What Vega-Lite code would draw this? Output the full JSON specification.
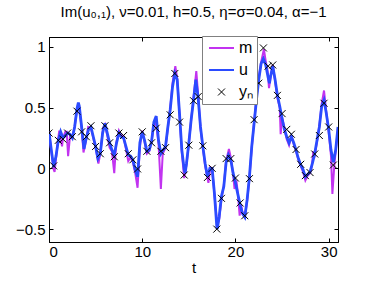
{
  "$schema": "https://vega.github.io/schema/vega-lite/v6.json",
  "width": 289,
  "height": 205,
  "autosize": {"type": "none"},
  "padding": {"left": 49, "top": 37, "right": 36, "bottom": 39},
  "background": "white",
  "title": {"text": "Im(u₀,₁), ν=0.01, h=0.5, η=σ=0.04, α=−1", "fontSize": 15, "font": "Liberation Sans", "fontWeight": "normal", "color": "black", "baseline": "alphabetic", "offset": 4},
  "config": {
    "view": {"stroke": "black", "strokeWidth": 1},
    "axis": {"grid": false, "domainColor": "black", "tickColor": "black", "labelColor": "black", "labelFont": "Liberation Sans", "titleFont": "Liberation Sans", "labelFontSize": 15, "titleFontSize": 15, "titleFontWeight": "normal", "titleColor": "black", "tickSize": -4, "domainWidth": 1}
  },
  "datasets": {
    "curves": [
      {"t":0,"v":0.30,"s":"u"},{"t":0.25,"v":0.15,"s":"u"},{"t":0.5,"v":0.01,"s":"u"},{"t":0.75,"v":0.10,"s":"u"},{"t":1.0,"v":0.23,"s":"u"},{"t":1.25,"v":0.30,"s":"u"},{"t":1.5,"v":0.25,"s":"u"},{"t":1.75,"v":0.27,"s":"u"},{"t":2.0,"v":0.29,"s":"u"},{"t":2.25,"v":0.28,"s":"u"},{"t":2.5,"v":0.25,"s":"u"},{"t":2.75,"v":0.34,"s":"u"},{"t":3.0,"v":0.49,"s":"u"},{"t":3.15,"v":0.54,"s":"u"},{"t":3.25,"v":0.51,"s":"u"},{"t":3.5,"v":0.34,"s":"u"},{"t":3.75,"v":0.16,"s":"u"},{"t":4.0,"v":0.25,"s":"u"},{"t":4.25,"v":0.32,"s":"u"},{"t":4.5,"v":0.34,"s":"u"},{"t":4.75,"v":0.26,"s":"u"},{"t":5.0,"v":0.18,"s":"u"},{"t":5.25,"v":0.08,"s":"u"},{"t":5.5,"v":0.12,"s":"u"},{"t":5.75,"v":0.29,"s":"u"},{"t":6.0,"v":0.37,"s":"u"},{"t":6.25,"v":0.29,"s":"u"},{"t":6.5,"v":0.21,"s":"u"},{"t":6.75,"v":0.15,"s":"u"},{"t":7.0,"v":0.11,"s":"u"},{"t":7.25,"v":0.21,"s":"u"},{"t":7.5,"v":0.29,"s":"u"},{"t":7.75,"v":0.26,"s":"u"},{"t":8.0,"v":0.25,"s":"u"},{"t":8.25,"v":0.18,"s":"u"},{"t":8.5,"v":0.11,"s":"u"},{"t":8.75,"v":0.10,"s":"u"},{"t":9.0,"v":0.07,"s":"u"},{"t":9.25,"v":-0.01,"s":"u"},{"t":9.5,"v":-0.07,"s":"u"},{"t":9.75,"v":0.21,"s":"u"},{"t":10.0,"v":0.30,"s":"u"},{"t":10.25,"v":0.23,"s":"u"},{"t":10.5,"v":0.14,"s":"u"},{"t":10.75,"v":0.15,"s":"u"},{"t":11.0,"v":0.22,"s":"u"},{"t":11.25,"v":0.38,"s":"u"},{"t":11.5,"v":0.43,"s":"u"},{"t":11.75,"v":0.23,"s":"u"},{"t":12.0,"v":0.12,"s":"u"},{"t":12.25,"v":0.15,"s":"u"},{"t":12.5,"v":0.18,"s":"u"},{"t":12.75,"v":0.34,"s":"u"},{"t":13.0,"v":0.48,"s":"u"},{"t":13.25,"v":0.67,"s":"u"},{"t":13.5,"v":0.78,"s":"u"},{"t":13.75,"v":0.73,"s":"u"},{"t":14.0,"v":0.45,"s":"u"},{"t":14.25,"v":0.15,"s":"u"},{"t":14.5,"v":-0.01,"s":"u"},{"t":14.6,"v":-0.04,"s":"u"},{"t":14.75,"v":0.04,"s":"u"},{"t":15.0,"v":0.21,"s":"u"},{"t":15.25,"v":0.40,"s":"u"},{"t":15.5,"v":0.56,"s":"u"},{"t":15.75,"v":0.73,"s":"u"},{"t":16.0,"v":0.58,"s":"u"},{"t":16.25,"v":0.34,"s":"u"},{"t":16.5,"v":0.18,"s":"u"},{"t":16.75,"v":0.04,"s":"u"},{"t":17.0,"v":-0.07,"s":"u"},{"t":17.25,"v":0.0,"s":"u"},{"t":17.5,"v":0.0,"s":"u"},{"t":17.75,"v":-0.21,"s":"u"},{"t":18.0,"v":-0.48,"s":"u"},{"t":18.05,"v":-0.50,"s":"u"},{"t":18.25,"v":-0.40,"s":"u"},{"t":18.5,"v":-0.23,"s":"u"},{"t":18.75,"v":-0.15,"s":"u"},{"t":19.0,"v":0.05,"s":"u"},{"t":19.25,"v":0.11,"s":"u"},{"t":19.5,"v":0.07,"s":"u"},{"t":19.75,"v":-0.04,"s":"u"},{"t":20.0,"v":-0.12,"s":"u"},{"t":20.25,"v":-0.21,"s":"u"},{"t":20.5,"v":-0.30,"s":"u"},{"t":20.75,"v":-0.37,"s":"u"},{"t":21.0,"v":-0.40,"s":"u"},{"t":21.25,"v":-0.26,"s":"u"},{"t":21.5,"v":-0.07,"s":"u"},{"t":21.75,"v":0.18,"s":"u"},{"t":22.0,"v":0.37,"s":"u"},{"t":22.25,"v":0.56,"s":"u"},{"t":22.5,"v":0.73,"s":"u"},{"t":22.75,"v":0.86,"s":"u"},{"t":23.0,"v":0.90,"s":"u"},{"t":23.25,"v":0.85,"s":"u"},{"t":23.5,"v":0.75,"s":"u"},{"t":23.65,"v":0.70,"s":"u"},{"t":23.75,"v":0.75,"s":"u"},{"t":24.0,"v":0.84,"s":"u"},{"t":24.25,"v":0.73,"s":"u"},{"t":24.5,"v":0.60,"s":"u"},{"t":24.75,"v":0.51,"s":"u"},{"t":25.0,"v":0.41,"s":"u"},{"t":25.25,"v":0.32,"s":"u"},{"t":25.5,"v":0.26,"s":"u"},{"t":25.75,"v":0.21,"s":"u"},{"t":26.0,"v":0.26,"s":"u"},{"t":26.25,"v":0.21,"s":"u"},{"t":26.5,"v":0.15,"s":"u"},{"t":26.75,"v":0.08,"s":"u"},{"t":27.0,"v":0.03,"s":"u"},{"t":27.25,"v":-0.01,"s":"u"},{"t":27.5,"v":-0.07,"s":"u"},{"t":27.75,"v":-0.05,"s":"u"},{"t":28.0,"v":-0.03,"s":"u"},{"t":28.25,"v":0.04,"s":"u"},{"t":28.5,"v":0.12,"s":"u"},{"t":28.75,"v":0.23,"s":"u"},{"t":29.0,"v":0.34,"s":"u"},{"t":29.25,"v":0.51,"s":"u"},{"t":29.5,"v":0.56,"s":"u"},{"t":29.75,"v":0.45,"s":"u"},{"t":30.0,"v":0.32,"s":"u"},{"t":30.25,"v":0.15,"s":"u"},{"t":30.5,"v":0.05,"s":"u"},{"t":30.75,"v":0.15,"s":"u"},{"t":31.0,"v":0.34,"s":"u"},
      {"t":0,"v":0.30,"s":"m"},{"t":0.25,"v":0.14,"s":"m"},{"t":0.5,"v":-0.01,"s":"m"},{"t":0.6,"v":-0.03,"s":"m"},{"t":0.75,"v":0.08,"s":"m"},{"t":1.0,"v":0.25,"s":"m"},{"t":1.1,"v":0.31,"s":"m"},{"t":1.25,"v":0.24,"s":"m"},{"t":1.4,"v":0.18,"s":"m"},{"t":1.5,"v":0.25,"s":"m"},{"t":1.75,"v":0.30,"s":"m"},{"t":1.9,"v":0.30,"s":"m"},{"t":2.05,"v":0.10,"s":"m"},{"t":2.25,"v":0.26,"s":"m"},{"t":2.5,"v":0.25,"s":"m"},{"t":2.75,"v":0.34,"s":"m"},{"t":3.0,"v":0.48,"s":"m"},{"t":3.15,"v":0.53,"s":"m"},{"t":3.25,"v":0.50,"s":"m"},{"t":3.5,"v":0.33,"s":"m"},{"t":3.7,"v":0.13,"s":"m"},{"t":4.0,"v":0.24,"s":"m"},{"t":4.2,"v":0.34,"s":"m"},{"t":4.5,"v":0.33,"s":"m"},{"t":4.75,"v":0.25,"s":"m"},{"t":5.0,"v":0.17,"s":"m"},{"t":5.3,"v":0.04,"s":"m"},{"t":5.5,"v":0.12,"s":"m"},{"t":5.8,"v":0.33,"s":"m"},{"t":6.0,"v":0.36,"s":"m"},{"t":6.25,"v":0.27,"s":"m"},{"t":6.5,"v":0.17,"s":"m"},{"t":6.75,"v":0.14,"s":"m"},{"t":7.0,"v":-0.04,"s":"m"},{"t":7.2,"v":0.20,"s":"m"},{"t":7.5,"v":0.31,"s":"m"},{"t":7.75,"v":0.27,"s":"m"},{"t":8.0,"v":0.26,"s":"m"},{"t":8.25,"v":0.16,"s":"m"},{"t":8.5,"v":0.06,"s":"m"},{"t":8.75,"v":0.09,"s":"m"},{"t":9.0,"v":0.05,"s":"m"},{"t":9.25,"v":-0.04,"s":"m"},{"t":9.5,"v":-0.16,"s":"m"},{"t":9.75,"v":0.18,"s":"m"},{"t":10.0,"v":0.31,"s":"m"},{"t":10.25,"v":0.22,"s":"m"},{"t":10.5,"v":0.12,"s":"m"},{"t":10.75,"v":0.14,"s":"m"},{"t":11.0,"v":0.22,"s":"m"},{"t":11.25,"v":0.36,"s":"m"},{"t":11.4,"v":0.40,"s":"m"},{"t":11.6,"v":0.30,"s":"m"},{"t":11.75,"v":0.20,"s":"m"},{"t":12.0,"v":-0.17,"s":"m"},{"t":12.2,"v":0.12,"s":"m"},{"t":12.5,"v":0.17,"s":"m"},{"t":12.75,"v":0.33,"s":"m"},{"t":13.0,"v":0.49,"s":"m"},{"t":13.25,"v":0.70,"s":"m"},{"t":13.55,"v":0.84,"s":"m"},{"t":13.75,"v":0.74,"s":"m"},{"t":14.0,"v":0.44,"s":"m"},{"t":14.25,"v":0.13,"s":"m"},{"t":14.5,"v":-0.08,"s":"m"},{"t":14.75,"v":0.03,"s":"m"},{"t":15.0,"v":0.20,"s":"m"},{"t":15.25,"v":0.40,"s":"m"},{"t":15.5,"v":0.58,"s":"m"},{"t":15.8,"v":0.80,"s":"m"},{"t":16.0,"v":0.60,"s":"m"},{"t":16.25,"v":0.33,"s":"m"},{"t":16.5,"v":0.17,"s":"m"},{"t":16.75,"v":0.02,"s":"m"},{"t":17.1,"v":-0.12,"s":"m"},{"t":17.3,"v":0.01,"s":"m"},{"t":17.5,"v":0.0,"s":"m"},{"t":17.75,"v":-0.22,"s":"m"},{"t":18.05,"v":-0.47,"s":"m"},{"t":18.25,"v":-0.42,"s":"m"},{"t":18.5,"v":-0.25,"s":"m"},{"t":18.75,"v":-0.14,"s":"m"},{"t":19.0,"v":0.06,"s":"m"},{"t":19.3,"v":0.16,"s":"m"},{"t":19.5,"v":0.09,"s":"m"},{"t":19.75,"v":-0.05,"s":"m"},{"t":19.9,"v":-0.17,"s":"m"},{"t":20.1,"v":-0.10,"s":"m"},{"t":20.25,"v":-0.20,"s":"m"},{"t":20.45,"v":-0.39,"s":"m"},{"t":20.6,"v":-0.30,"s":"m"},{"t":20.75,"v":-0.36,"s":"m"},{"t":21.0,"v":-0.40,"s":"m"},{"t":21.25,"v":-0.27,"s":"m"},{"t":21.5,"v":-0.08,"s":"m"},{"t":21.75,"v":0.17,"s":"m"},{"t":22.0,"v":0.38,"s":"m"},{"t":22.25,"v":0.57,"s":"m"},{"t":22.5,"v":0.74,"s":"m"},{"t":22.75,"v":0.87,"s":"m"},{"t":23.05,"v":0.98,"s":"m"},{"t":23.25,"v":0.88,"s":"m"},{"t":23.45,"v":0.80,"s":"m"},{"t":23.6,"v":0.66,"s":"m"},{"t":23.75,"v":0.74,"s":"m"},{"t":24.0,"v":0.85,"s":"m"},{"t":24.25,"v":0.72,"s":"m"},{"t":24.5,"v":0.58,"s":"m"},{"t":24.75,"v":0.50,"s":"m"},{"t":24.85,"v":0.28,"s":"m"},{"t":25.0,"v":0.42,"s":"m"},{"t":25.25,"v":0.33,"s":"m"},{"t":25.5,"v":0.24,"s":"m"},{"t":25.75,"v":0.19,"s":"m"},{"t":26.0,"v":0.27,"s":"m"},{"t":26.25,"v":0.20,"s":"m"},{"t":26.5,"v":0.14,"s":"m"},{"t":26.75,"v":0.07,"s":"m"},{"t":27.0,"v":0.02,"s":"m"},{"t":27.25,"v":-0.03,"s":"m"},{"t":27.5,"v":-0.10,"s":"m"},{"t":27.75,"v":-0.06,"s":"m"},{"t":28.0,"v":-0.04,"s":"m"},{"t":28.2,"v":0.02,"s":"m"},{"t":28.35,"v":0.14,"s":"m"},{"t":28.5,"v":0.11,"s":"m"},{"t":28.75,"v":0.22,"s":"m"},{"t":29.0,"v":0.35,"s":"m"},{"t":29.25,"v":0.53,"s":"m"},{"t":29.5,"v":0.64,"s":"m"},{"t":29.75,"v":0.46,"s":"m"},{"t":30.0,"v":0.30,"s":"m"},{"t":30.25,"v":0.10,"s":"m"},{"t":30.4,"v":-0.21,"s":"m"},{"t":30.6,"v":0.02,"s":"m"},{"t":30.75,"v":0.14,"s":"m"},{"t":31.0,"v":0.33,"s":"m"}
    ],
    "obs": [
      {"t":0,"v":0.29,"s":"yₙ"},{"t":0.5,"v":0.02,"s":"yₙ"},{"t":1.0,"v":0.23,"s":"yₙ"},{"t":1.5,"v":0.24,"s":"yₙ"},{"t":2.0,"v":0.29,"s":"yₙ"},{"t":2.5,"v":0.26,"s":"yₙ"},{"t":3.0,"v":0.47,"s":"yₙ"},{"t":3.5,"v":0.30,"s":"yₙ"},{"t":4.0,"v":0.26,"s":"yₙ"},{"t":4.5,"v":0.35,"s":"yₙ"},{"t":5.0,"v":0.18,"s":"yₙ"},{"t":5.5,"v":0.12,"s":"yₙ"},{"t":6.0,"v":0.35,"s":"yₙ"},{"t":6.5,"v":0.21,"s":"yₙ"},{"t":7.0,"v":0.095,"s":"yₙ"},{"t":7.5,"v":0.29,"s":"yₙ"},{"t":8.0,"v":0.27,"s":"yₙ"},{"t":8.5,"v":0.12,"s":"yₙ"},{"t":9.0,"v":0.07,"s":"yₙ"},{"t":9.5,"v":-0.005,"s":"yₙ"},{"t":10.0,"v":0.30,"s":"yₙ"},{"t":10.5,"v":0.14,"s":"yₙ"},{"t":11.0,"v":0.21,"s":"yₙ"},{"t":11.5,"v":0.33,"s":"yₙ"},{"t":12.0,"v":0.14,"s":"yₙ"},{"t":12.5,"v":0.17,"s":"yₙ"},{"t":13.0,"v":0.44,"s":"yₙ"},{"t":13.5,"v":0.78,"s":"yₙ"},{"t":14.0,"v":0.38,"s":"yₙ"},{"t":14.5,"v":-0.055,"s":"yₙ"},{"t":15.0,"v":0.19,"s":"yₙ"},{"t":15.5,"v":0.556,"s":"yₙ"},{"t":16.0,"v":0.59,"s":"yₙ"},{"t":16.5,"v":0.185,"s":"yₙ"},{"t":17.0,"v":-0.075,"s":"yₙ"},{"t":17.5,"v":0.0,"s":"yₙ"},{"t":18.0,"v":-0.50,"s":"yₙ"},{"t":18.5,"v":-0.247,"s":"yₙ"},{"t":19.0,"v":0.08,"s":"yₙ"},{"t":19.5,"v":0.08,"s":"yₙ"},{"t":20.0,"v":-0.08,"s":"yₙ"},{"t":20.5,"v":-0.285,"s":"yₙ"},{"t":21.0,"v":-0.39,"s":"yₙ"},{"t":21.5,"v":-0.085,"s":"yₙ"},{"t":22.0,"v":0.40,"s":"yₙ"},{"t":22.5,"v":0.70,"s":"yₙ"},{"t":23.0,"v":0.99,"s":"yₙ"},{"t":23.5,"v":0.84,"s":"yₙ"},{"t":24.0,"v":0.85,"s":"yₙ"},{"t":24.5,"v":0.60,"s":"yₙ"},{"t":25.0,"v":0.45,"s":"yₙ"},{"t":25.5,"v":0.32,"s":"yₙ"},{"t":26.0,"v":0.28,"s":"yₙ"},{"t":26.5,"v":0.155,"s":"yₙ"},{"t":27.0,"v":0.033,"s":"yₙ"},{"t":27.5,"v":-0.06,"s":"yₙ"},{"t":28.0,"v":-0.035,"s":"yₙ"},{"t":28.5,"v":0.118,"s":"yₙ"},{"t":29.0,"v":0.27,"s":"yₙ"},{"t":29.5,"v":0.535,"s":"yₙ"},{"t":30.0,"v":0.34,"s":"yₙ"},{"t":30.5,"v":0.027,"s":"yₙ"}
    ]
  },
  "layer": [
    {
      "data": {"name": "curves"},
      "transform": [{"filter": "datum.s === 'm'"}],
      "mark": {"type": "line", "strokeWidth": 2, "clip": true},
      "encoding": {
        "x": {"field": "t", "type": "quantitative", "scale": {"domain": [0, 31], "nice": false, "zero": false}, "axis": {"values": [0, 10, 20, 30], "labelPadding": 6, "title": "t", "titlePadding": 1}},
        "y": {"field": "v", "type": "quantitative", "scale": {"domain": [-0.606, 1.08], "nice": false, "zero": false}, "axis": {"values": [-0.5, 0, 0.5, 1], "format": "~g", "labelPadding": 8, "title": null}},
        "color": {"field": "s", "type": "nominal", "scale": {"domain": ["m", "u", "yₙ"], "range": ["#c233f0", "#2b4bff", "black"]},
          "legend": {"title": null, "orient": "none", "legendX": 153, "legendY": -1, "fillColor": "white", "strokeColor": "#808080", "padding": 4, "labelFontSize": 16, "labelFont": "Liberation Sans", "labelColor": "black", "symbolSize": 100, "symbolStrokeWidth": 2, "rowPadding": 6, "labelOffset": 17,
            "encode": {"symbols": {"update": {"shape": {"signal": "datum.value === 'yₙ' ? 'M0.8,-0.7L2.2,0.7M0.8,0.7L2.2,-0.7' : 'M-1,0L4,0'"}, "strokeWidth": {"signal": "datum.value === 'yₙ' ? 1 : 2"}}}}}}
      }
    },
    {
      "data": {"name": "curves"},
      "transform": [{"filter": "datum.s === 'u'"}],
      "mark": {"type": "line", "strokeWidth": 2.8, "clip": true},
      "encoding": {
        "x": {"field": "t", "type": "quantitative", "axis": null},
        "y": {"field": "v", "type": "quantitative", "axis": null},
        "color": {"field": "s", "type": "nominal"}
      }
    },
    {
      "data": {"name": "obs"},
      "mark": {"type": "point", "shape": "M-0.7,-0.7L0.7,0.7M-0.7,0.7L0.7,-0.7", "size": 100, "filled": false, "strokeWidth": 1, "opacity": 1, "clip": true},
      "encoding": {
        "x": {"field": "t", "type": "quantitative", "axis": {"orient": "top", "labels": false, "values": [0, 10, 20, 30], "title": null}},
        "y": {"field": "v", "type": "quantitative", "axis": {"orient": "right", "labels": false, "values": [-0.5, 0, 0.5, 1], "title": null}},
        "color": {"field": "s", "type": "nominal"}
      }
    }
  ],
  "resolve": {"axis": {"x": "independent", "y": "independent"}}
}
